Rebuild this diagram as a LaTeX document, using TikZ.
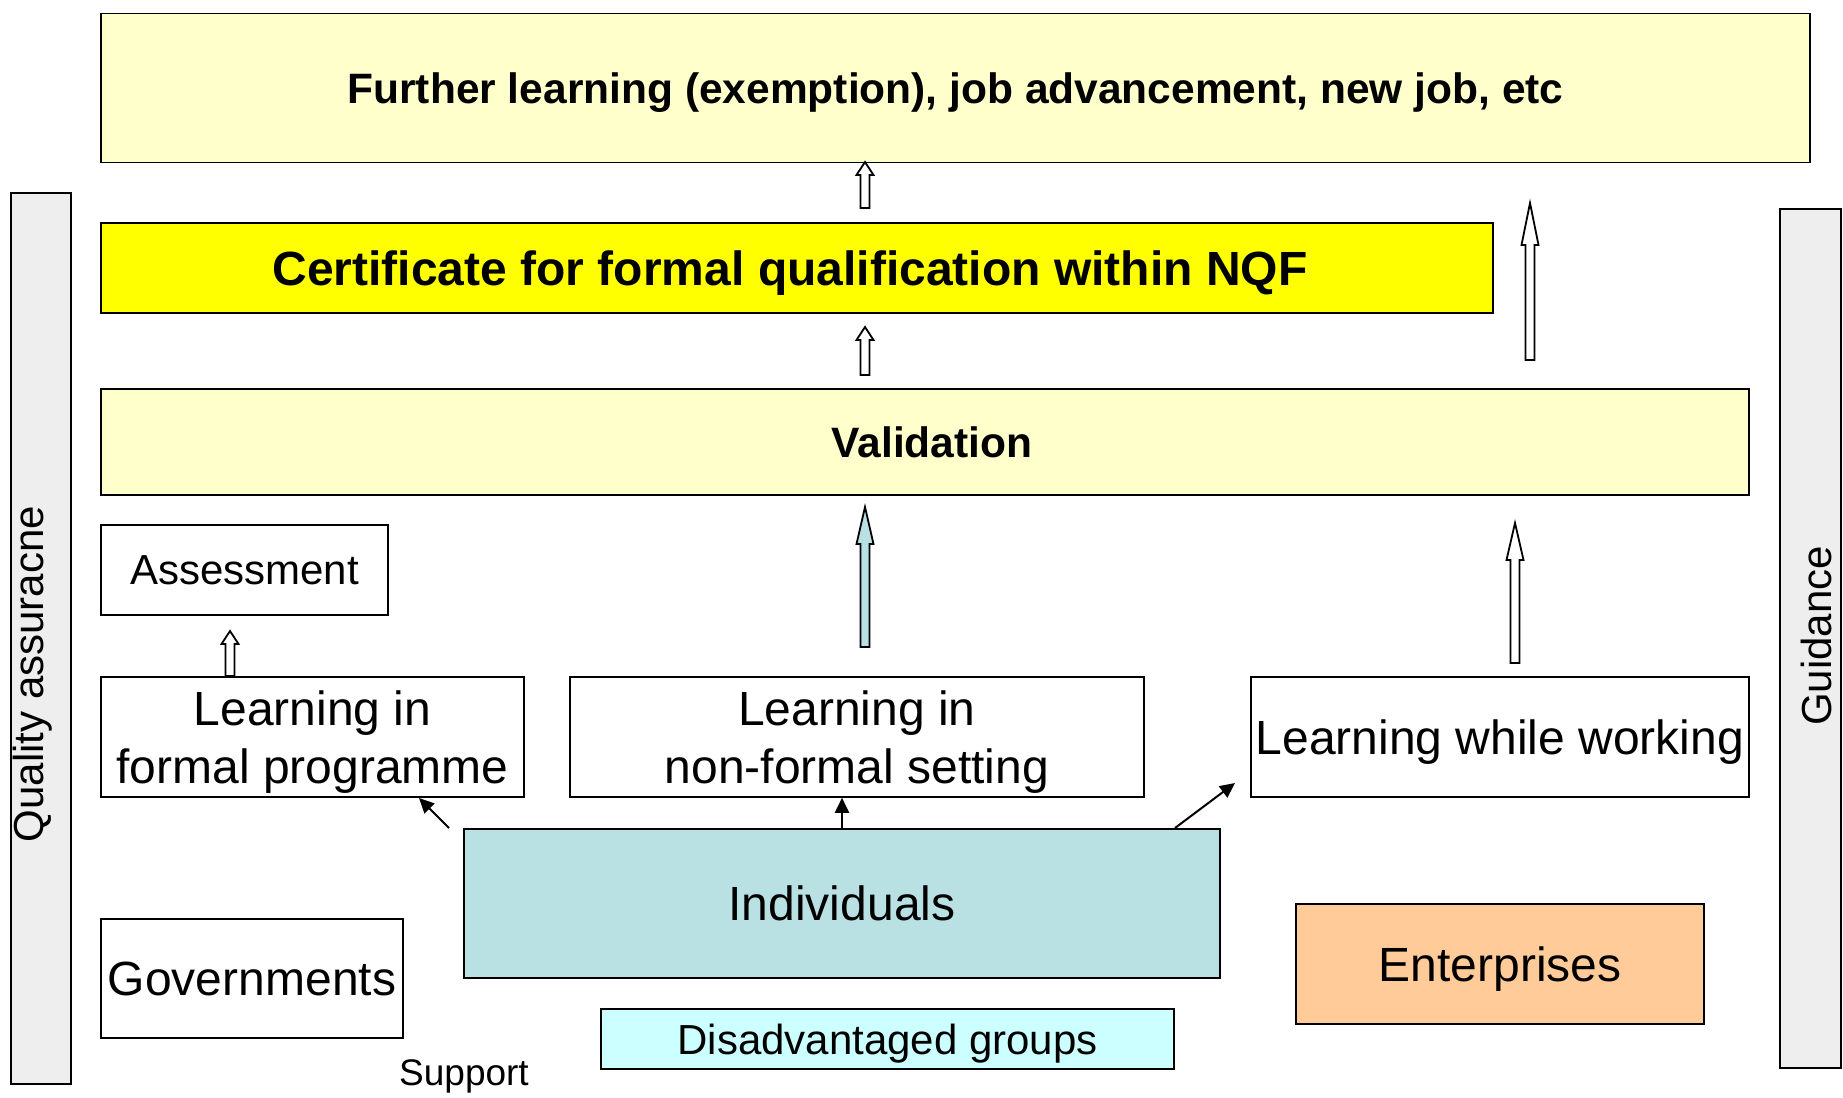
\documentclass[tikz,border=0pt]{standalone}
\usepackage{fontspec}
\setmainfont{Liberation Sans}
\usetikzlibrary{calc,arrows.meta}

\definecolor{paleyellow}{HTML}{FFFFCC}
\definecolor{certyellow}{HTML}{FFFF00}
\definecolor{indteal}{HTML}{B9E0E3}
\definecolor{groupcyan}{HTML}{CCFFFF}
\definecolor{entorange}{HTML}{FFCC99}
\definecolor{bargray}{HTML}{EEEEEE}

% hollow block arrow pointing from #2 (base) to #3 (tip), #4 = head length
\newcommand{\blockarrow}[4][white]{%
  \draw[blockline, fill=#1] let \p1=(#2), \p2=(#3) in
    (\x1-4.5pt,\y1) -- (\x2-4.5pt,\y2-#4) -- (\x2-8.5pt,\y2-#4) -- (\x2,\y2)
    -- (\x2+8.5pt,\y2-#4) -- (\x2+4.5pt,\y2-#4) -- (\x1+4.5pt,\y1) -- cycle;
}

\begin{document}
\begin{tikzpicture}[
  x=1pt, y=-1pt,
  box/.style={draw, line width=1.6pt, inner sep=0pt, align=center, text depth=0pt},
  big/.style={font=\fontsize{48}{58}\selectfont},
  mid/.style={font=\fontsize{42}{49}\selectfont},
  blockline/.style={line width=1.8pt, line join=miter},
  tip/.style={line width=2pt, -{Triangle[length=15pt, width=14pt]}},
  bar/.style={box, fill=bargray, minimum width=60pt}
]
\useasboundingbox (0,0) rectangle (1843,1097);

% results and validation
\node[box, fill=paleyellow, minimum width=1709pt, minimum height=149pt,
  font=\fontsize{42.5}{50}\selectfont\bfseries] (further) at (955.5,88)
  {Further learning (exemption), job advancement, new job, etc};
\node[box, fill=certyellow, minimum width=1392pt, minimum height=90pt,
  font=\fontsize{48}{56}\selectfont\bfseries] (cert) at (797,268)
  {\hspace*{-14pt}Certificate for formal qualification within NQF};
\node[box, fill=paleyellow, minimum width=1648pt, minimum height=106pt,
  font=\fontsize{42.5}{50}\selectfont\bfseries] (valid) at (925,442)
  {\hspace*{14pt}Validation};

% learning settings
\node[box, mid, minimum width=287pt, minimum height=90pt] (assess) at (244.5,570) {Assessment};
\node[box, big, minimum width=423pt, minimum height=120pt] (formal) at (312.5,737)
  {Learning in\\formal programme};
\node[box, big, minimum width=574pt, minimum height=120pt] (nonformal) at (857,737)
  {Learning in\\non-formal setting};
\node[box, big, minimum width=498pt, minimum height=120pt] (working) at (1500,737)
  {Learning while working};

% actors
\node[box, big, fill=indteal, minimum width=756pt, minimum height=149pt] (ind) at (842,903.5) {Individuals};
\node[box, big, minimum width=302pt, minimum height=119pt] (gov) at (252,978.5) {Governments};
\node[box, mid, fill=groupcyan, minimum width=573pt, minimum height=60pt] (groups) at (887.5,1039)
  {Disadvantaged groups};
\node[box, big, fill=entorange, minimum width=408pt, minimum height=120pt] (ent) at (1500,964) {Enterprises};
\node[font=\fontsize{37}{44}\selectfont] (support) at (464,1076) {Support};

% side bars
\node[bar, minimum height=891pt] (qa) at (41,638.5) {};
\node[mid, rotate=90] (qalabel) at (33,674) {Quality assuracne};
\node[bar, minimum width=61pt, minimum height=859pt] (guide) at (1810.5,638.5) {};
\node[mid, rotate=90] (guidelabel) at (1816,636) {Guidance};

% block arrows
\coordinate (a1base) at (865,208);  \coordinate (a1tip) at (865,162);
\coordinate (a2base) at (865,375);  \coordinate (a2tip) at (865,327);
\coordinate (a3base) at (1530,360); \coordinate (a3tip) at (1530,203);
\coordinate (a4base) at (865,647);  \coordinate (a4tip) at (865,507);
\coordinate (a5base) at (1515,663); \coordinate (a5tip) at (1515,523);
\coordinate (a6base) at (230,676);  \coordinate (a6tip) at (230,631);
\blockarrow{a1base}{a1tip}{13pt}
\blockarrow{a2base}{a2tip}{13pt}
\blockarrow{a3base}{a3tip}{42pt}
\blockarrow[indteal]{a4base}{a4tip}{37pt}
\blockarrow{a5base}{a5tip}{37pt}
\blockarrow{a6base}{a6tip}{13pt}

% individuals reach each setting
\coordinate (indleft) at (449,828);  \coordinate (formalend) at (419,798);
\coordinate (indright) at (1175,828); \coordinate (workingend) at (1235,783);
\draw[tip] (indleft) -- (formalend);
\draw[tip] (ind.north) -- (ind.north |- nonformal.south);
\draw[tip] (indright) -- (workingend);
\end{tikzpicture}
\end{document}
